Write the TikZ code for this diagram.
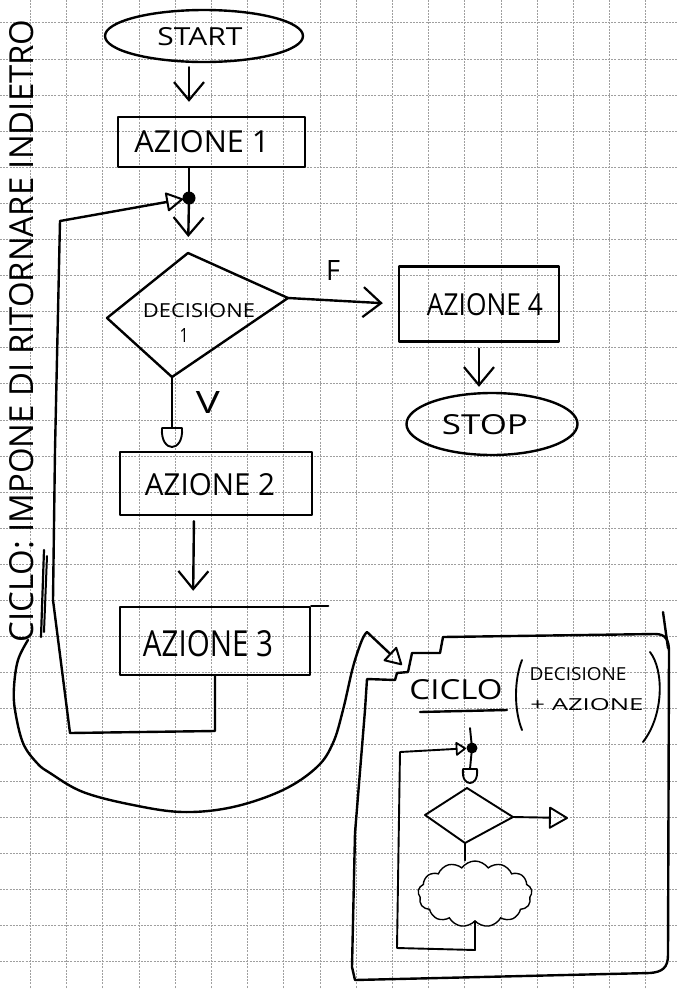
\documentclass[tikz,border=0pt]{standalone}
\usepackage{fontspec}
\setmainfont{Open Sans}
\usetikzlibrary{arrows.meta,shapes.geometric,shapes.symbols}
% hand-lettered label squeezed to a given width and cap height (in pt)
\newcommand\hand[3]{\resizebox{#1pt}{#2pt}{#3}}

\begin{document}
\begin{tikzpicture}[x=1pt,y=-1pt,
  gridline/.style={gray!75, line width=0.5pt, dash pattern=on 2pt off 1.2pt},
  ink/.style={line width=2.4pt, line cap=round, line join=round},
  thin ink/.style={line width=1.9pt, line cap=round, line join=round},
  box/.style={draw, ink, rectangle, inner sep=0pt},
  oval/.style={draw, ink, ellipse, inner sep=0pt},
  lbl/.style={inner sep=0pt, text=black},
  vtip/.style={ink, -{Straight Barb[length=18pt,width=30pt,line width=2.2pt]}},
  tri/.style={ink, -{Triangle[open,round,length=18pt,width=20pt,line width=2pt]}},
  trismall/.style={thin ink, -{Triangle[open,round,length=11pt,width=15pt,line width=1.8pt]}},
]
\useasboundingbox (0,0) rectangle (677,989);
\fill[white] (0,0) rectangle (677,989);

% squared paper
\foreach \i in {0,...,17} \draw[gridline] ({30.3+36.2*\i},0) -- ({30.3+36.2*\i},989);
\foreach \j in {0,...,26} \draw[gridline] (0,{22.7+36.1*\j}) -- (677,{22.7+36.1*\j});

% ---------- main flowchart ----------
\node[oval, minimum width=198pt, minimum height=52pt] (start) at (204,36) {};
\node[lbl] (startt) at (200,37) {\hand{85}{18}{START}};

\node[box, minimum width=187pt, minimum height=50pt] (a1) at (211.5,142) {};
\node[lbl] (a1t) at (202,142) {\hand{135}{22}{AZIONE 1}};

\coordinate (j1) at (189,198);
\fill (j1) circle (6.5pt);

\coordinate (d1t) at (188,253);
\coordinate (d1r) at (288,298);
\coordinate (d1b) at (172,377);
\coordinate (d1l) at (107,318);
\draw[ink] (d1t) -- (d1r) -- (d1b) -- (d1l) -- cycle;
\node[lbl] (d1txt) at (199,311) {\hand{112}{14}{DECISIONE}};
\node[lbl] (d1num) at (184,335) {\hand{9}{14}{1}};

\node[box, minimum width=160pt, minimum height=75pt] (a4) at (479,304) {};
\node[lbl] (a4t) at (485,305) {\hand{116}{22}{AZIONE 4}};

\node[oval, minimum width=171pt, minimum height=62pt] (stop) at (492,424) {};
\node[lbl] (stopt) at (485,425) {\hand{86}{20}{STOP}};

\node[box, minimum width=192pt, minimum height=63pt] (a2) at (216,483.5) {};
\node[lbl] (a2t) at (210,485) {\hand{130}{22}{AZIONE 2}};

\node[box, minimum width=190pt, minimum height=68pt] (a3) at (215,641) {};
\node[lbl] (a3t) at (208,644) {\hand{130}{26}{AZIONE 3}};
\draw[ink] (a3.north east) -- ++(17,0);

% connectors
\draw[vtip, shorten <=4pt, shorten >=14pt] (start.south -| j1) -- (a1.north -| j1);
\draw[ink] (a1.south -| j1) -- (j1);
\draw[vtip, shorten >=16pt] (j1) -- (d1t);
\draw[vtip, shorten >=15pt] (d1r) -- (a4.west);
\node[lbl] (flab) at (333,270) {\hand{14}{20}{F}};
\draw[vtip, shorten <=6pt, shorten >=5pt] (a4.south) -- (a4.south |- stop.north);

\coordinate (vcup) at (172,428);
\draw[ink] (d1b) -- (vcup);
\draw[thin ink] (162,428) -- (182,428) .. controls (183,441) and (177,447) .. (172,447)
  .. controls (167,447) and (161,441) .. (162,428);
\node[lbl] (vlab) at (208,402) {\hand{24}{22}{V}};

\draw[vtip, shorten <=5pt, shorten >=15pt] ([xshift=-22pt]a2.south) -- ([xshift=-22pt]a3.north);

% loop back from AZIONE 3 to the junction
\coordinate (p1) at (215,731);
\coordinate (p2) at (70,733);
\coordinate (p3) at (53,600);
\coordinate (p4) at (55,450);
\coordinate (p5) at (60,221);
\draw[tri, shorten >=6pt] (a3.south) -- (p1) -- (p2) -- (p3) -- (p4) -- (p5) -- (j1);

% side note
\node[lbl, rotate=90] (note) at (22,331) {\hand{623}{24}{CICLO: IMPONE DI RITORNARE INDIETRO}};
\draw[line width=2.2pt, line cap=round] (44,550) -- (41,637);
\draw[line width=2pt, line cap=round] (47,556) -- (44,632);

% sweep from the note to the loop box
\coordinate (cb) at (402,665);
\draw[tri] plot[smooth, tension=0.6] coordinates {(28,640) (18,660) (14,687) (15,710) (23,743)
  (37,763) (50,773) (83,792) (133,805) (183,812) (233,807) (283,790) (317,767) (333,743)
  (343,710) (353,667) (362,640) (367,632)} -- (cb);

% ---------- loop box ----------
\draw[ink] (367,679) -- (395,680) -- (397,673) -- (408,672) -- (412,653) -- (440,653)
  -- (443,637) -- (655,634) .. controls (666,634) and (669,640) .. (669,652)
  -- (668,955) .. controls (668,968) and (662,972) .. (650,973) -- (355,980)
  -- (352,967) -- (355,833) -- (365,710) -- cycle;
\draw[ink] (663,612) -- (668,648);

\node[lbl] (ciclo) at (456,690) {\hand{93}{20}{CICLO}};
\draw[ink] (420,712) -- (507,710);
\draw[thin ink] (522,660) .. controls (514,680) and (514,710) .. (522,730);
\draw[thin ink] (650,652) .. controls (664,670) and (664,715) .. (643,742);
\node[lbl] (cdec) at (578,674) {\hand{97}{13}{DECISIONE}};
\node[lbl] (cazi) at (587,705) {\hand{113}{12}{+ AZIONE}};

% mini flowchart
\coordinate (m0) at (470,728);
\coordinate (j2) at (472,748);
\fill (j2) circle (5.5pt);
\draw[thin ink] (m0) -- (j2);
\draw[thin ink] (j2) -- (470,769);
\draw[thin ink] (463,769) -- (477,769) .. controls (478,779) and (474,783) .. (470,783)
  .. controls (466,783) and (462,779) .. (463,769);

\coordinate (d2t) at (467,788);
\coordinate (d2r) at (513,817);
\coordinate (d2b) at (465,843);
\coordinate (d2l) at (425,815);
\draw[thin ink] (d2t) -- (d2r) -- (d2b) -- (d2l) -- cycle;
\coordinate (m2) at (568,818);
\draw[thin ink, -{Triangle[open,round,length=20pt,width=23pt,line width=1.9pt]}] (d2r) -- (m2);

\node[cloud, draw, cloud puffs=13, cloud puff arc=110, aspect=1.7, minimum width=114pt,
  minimum height=66pt, line width=1.4pt, inner sep=0pt] (cloud) at (475,894) {};
\draw[thin ink] (d2b) -- (d2b |- cloud.north);

\coordinate (q1) at (475,950);
\coordinate (q2) at (397,948);
\coordinate (q3) at (400,752);
\draw[trismall, shorten >=6pt] (cloud.south) -- (q1) -- (q2) -- (q3) -- (j2);
\end{tikzpicture}
\end{document}
